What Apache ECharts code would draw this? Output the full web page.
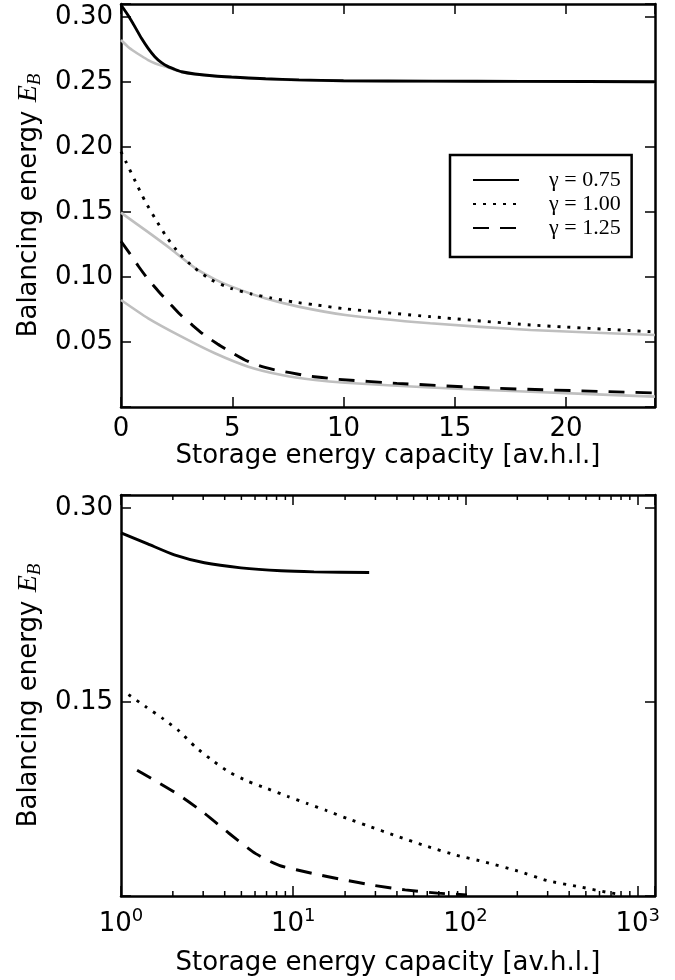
<!DOCTYPE html>
<html>
<head>
<meta charset="utf-8">
<script src="https://cdn.jsdelivr.net/npm/echarts@6/dist/echarts.min.js"></script>
<style>
html,body{margin:0;padding:0;background:#fff;}
#c{width:675px;height:980px;}
</style>
</head>
<body>
<div id="c"></div>
<script>
// ---------- data ----------
const legendNames = ['γ=0.75', 'γ=1.00', 'γ=1.25'];

// top panel (linear storage capacity)
const topSolidX = [0, 0.31, 0.62, 0.92, 1.22, 1.52, 1.82, 2.12, 2.42, 2.72, 3.32, 4.22, 4.97, 6.5, 8, 10, 14, 18, 24];
const topSolidY = [0.3092, 0.3015, 0.2926, 0.2836, 0.2759, 0.2695, 0.2649, 0.2618, 0.2597, 0.2579, 0.2562, 0.2546, 0.2538, 0.2525, 0.2516, 0.2510, 0.2507, 0.2505, 0.2502];
const topGrayAX = [0, 0.31, 0.62, 0.92, 1.22, 1.52, 1.82, 2.12, 2.72, 3.32, 4.22, 4.97, 6.5, 8, 10, 14, 18, 24];
const topGrayAY = [0.2823, 0.2772, 0.2733, 0.2700, 0.2669, 0.2644, 0.2626, 0.2611, 0.2577, 0.2560, 0.2544, 0.2536, 0.2523, 0.2514, 0.2508, 0.2505, 0.2503, 0.2500];

const topDotX = [0, 0.24, 0.65, 1.07, 1.55, 2.04, 2.61, 3.32, 4.07, 4.94, 5.87, 6.77, 7.75, 8.69, 10.08, 13.9, 18.4, 24];
const topDotY = [0.1964, 0.188, 0.1733, 0.1587, 0.1446, 0.131, 0.1182, 0.1067, 0.0977, 0.0913, 0.0869, 0.0838, 0.0808, 0.0787, 0.0755, 0.0695, 0.0631, 0.0578];
const topGrayBX = [0, 1.22, 2.27, 3.32, 4.22, 4.97, 6.47, 7.97, 10.08, 13.9, 18.4, 24];
const topGrayBY = [0.1495, 0.1345, 0.1212, 0.1070, 0.0982, 0.0926, 0.0836, 0.0772, 0.0708, 0.0644, 0.0592, 0.0554];

const topDashX = [0, 0.39, 0.8, 1.22, 1.7, 2.19, 2.64, 3.2, 3.74, 4.34, 4.9, 5.57, 6.2, 6.92, 7.6, 8.35, 9.03, 9.77, 12.4, 16.9, 24];
const topDashY = [0.1275, 0.1182, 0.1079, 0.0982, 0.0887, 0.0797, 0.0715, 0.0631, 0.0554, 0.0485, 0.0426, 0.0362, 0.0318, 0.0285, 0.0264, 0.0240, 0.0227, 0.0213, 0.0182, 0.0144, 0.0108];
const topGrayCX = [0, 1.22, 2.72, 4.22, 5.72, 7.22, 8.72, 10.08, 13.9, 18.4, 24];
const topGrayCY = [0.0823, 0.0682, 0.0541, 0.0413, 0.031, 0.0246, 0.0208, 0.0187, 0.015, 0.0117, 0.0080];

// bottom panel (log storage capacity)
const botSolidX = [1, 1.43, 2.04, 3.05, 4.97, 8.49, 13.2, 27.6];
const botSolidY = [0.2807, 0.2722, 0.2637, 0.2576, 0.2537, 0.2514, 0.2506, 0.2501];
const botDotX = [1.105, 1.40, 1.77, 2.18, 2.70, 3.38, 4.22, 5.43, 7.10, 9.27, 12.0, 15.7, 20.5, 27.0, 39.4, 58.8, 87.7, 131, 200, 298, 451, 679, 783];
const botDotY = [0.1557, 0.1461, 0.1367, 0.1274, 0.1153, 0.105, 0.096, 0.0888, 0.0829, 0.077, 0.0716, 0.0659, 0.0600, 0.0543, 0.0466, 0.0387, 0.0317, 0.0261, 0.0194, 0.0119, 0.0073, 0.0026, 0.0014];
const botDashX = [1.24, 1.50, 2.13, 3.02, 4.20, 5.81, 7.03, 8.49, 12.8, 19.3, 29.5, 44.6, 68.7, 102];
const botDashY = [0.0973, 0.0909, 0.0788, 0.0644, 0.0489, 0.0343, 0.0279, 0.0232, 0.0176, 0.0127, 0.0082, 0.0047, 0.0022, 0.0009];

// axes
const topXRange = [0, 24], topXStep = 5;
const topYRange = [0, 0.31], topYStep = 0.05;
const botXRange = [1, 1260];
const botYRange = [0, 0.31], botYStep = 0.15;
const logMinorTicks = [2, 3, 4, 5, 6, 7, 8, 9, 20, 30, 40, 50, 60, 70, 80, 90, 200, 300, 400, 500, 600, 700, 800, 900];
const xTitle = 'Storage energy capacity [av.h.l.]';

// ---------- build ----------
const zip = (xs, ys) => xs.map((x, i) => [x, ys[i]]);
const SANS = 'DejaVu Sans';
const SERIF = 'Liberation Serif';
const FS = 26;
const spine = { show: true, onZero: false, lineStyle: { color: '#000', width: 2.5 } };
const tick = { show: true, inside: true, length: 10, lineStyle: { color: '#000', width: 1.5 } };
const yName = '{n|Balancing energy }{e|E}{s|B}';
const yNameStyle = {
  fontFamily: SANS, fontSize: FS, color: '#000',
  rich: {
    n: { fontFamily: SANS, fontSize: FS, color: '#000', lineHeight: 30 },
    e: { fontFamily: SERIF, fontStyle: 'italic', fontSize: 28, color: '#000', lineHeight: 30 },
    s: { fontFamily: SERIF, fontStyle: 'italic', fontSize: 19, color: '#000', lineHeight: 14, verticalAlign: 'bottom' }
  }
};
const xNameStyle = { fontFamily: SANS, fontSize: FS, color: '#000' };
const linFmt = (step, maxShown) => v => {
  if (Math.abs(v) < 1e-9 || v > maxShown + 1e-9) return '';
  const k = v / step;
  if (Math.abs(k - Math.round(k)) > 1e-6) return '';
  return v.toFixed(2);
};

const gray = '#bfbfbf';
function line(name, xs, ys, xi, yi, color, type, z, w) {
  return {
    name, type: 'line', xAxisIndex: xi, yAxisIndex: yi,
    data: zip(xs, ys), showSymbol: false, symbol: 'none', smooth: 0.2,
    lineStyle: { color, width: w, type, cap: 'butt' }, itemStyle: { color },
    z, silent: true
  };
}
const DOT = [3, 7];
const DASH = [16, 11];
const BW = 2.9, GW = 2.6;

const option = {
  animation: false,
  backgroundColor: '#fff',
  grid: [
    { left: 121, right: 20, top: 4, height: 403, outerBoundsMode: 'none', containLabel: false },
    { left: 121, right: 20, top: 495, height: 401, outerBoundsMode: 'none', containLabel: false }
  ],
  legend: {
    data: legendNames,
    orient: 'vertical',
    left: 450, top: 155,
    padding: [14, 11, 18, 22],
    itemWidth: 46, itemHeight: 14, itemGap: 2,
    borderColor: '#000', borderWidth: 2.5, backgroundColor: '#fff',
    selectedMode: false,
    itemStyle: { opacity: 0, borderWidth: 0 },
    textStyle: { fontFamily: SERIF, fontSize: 22, color: '#000', padding: [0, 0, 0, 25] },
    formatter: n => n.replace('=', ' = ')
  },
  xAxis: [
    { gridIndex: 0, type: 'value', position: 'bottom', min: topXRange[0], max: topXRange[1], interval: topXStep,
      axisLine: spine, axisTick: tick, splitLine: { show: false },
      axisLabel: { fontFamily: SANS, fontSize: FS, color: '#000', margin: 9,
        formatter: v => (v % topXStep === 0 ? String(v) : '') },
      name: xTitle, nameLocation: 'middle', nameGap: 34, nameTextStyle: xNameStyle },
    { gridIndex: 0, type: 'value', position: 'top', min: topXRange[0], max: topXRange[1], interval: topXStep,
      axisLine: spine, axisTick: tick, splitLine: { show: false }, axisLabel: { show: false } },
    { gridIndex: 1, type: 'log', logBase: 10, position: 'bottom', min: botXRange[0], max: botXRange[1],
      axisLine: spine, axisTick: tick, splitLine: { show: false }, minorTick: { show: false },
      axisLabel: { fontFamily: SANS, fontSize: FS, color: '#000', margin: 11,
        formatter: v => {
          const l = Math.log10(v), r = Math.round(l);
          return Math.abs(l - r) < 1e-6 ? '{b|10}{s|' + r + '}' : '';
        },
        rich: {
          b: { fontFamily: SANS, fontSize: FS, color: '#000', lineHeight: 34 },
          s: { fontFamily: SANS, fontSize: 18, color: '#000', lineHeight: 14, verticalAlign: 'top' }
        } },
      name: xTitle, nameLocation: 'middle', nameGap: 54, nameTextStyle: xNameStyle },
    { gridIndex: 1, type: 'log', logBase: 10, position: 'top', min: botXRange[0], max: botXRange[1],
      axisLine: spine, axisTick: tick, splitLine: { show: false }, axisLabel: { show: false } }
  ],
  yAxis: [
    { gridIndex: 0, type: 'value', position: 'left', min: topYRange[0], max: topYRange[1], interval: topYStep,
      axisLine: spine, axisTick: tick, splitLine: { show: false },
      axisLabel: { fontFamily: SANS, fontSize: FS, color: '#000', margin: 8, formatter: linFmt(topYStep, 0.30) },
      name: yName, nameLocation: 'middle', nameRotate: 90, nameGap: 77, nameTextStyle: yNameStyle },
    { gridIndex: 0, type: 'value', position: 'right', min: topYRange[0], max: topYRange[1], interval: topYStep,
      axisLine: spine, axisTick: tick, splitLine: { show: false }, axisLabel: { show: false } },
    { gridIndex: 1, type: 'value', position: 'left', min: botYRange[0], max: botYRange[1], interval: botYStep,
      axisLine: spine, axisTick: tick, splitLine: { show: false },
      axisLabel: { fontFamily: SANS, fontSize: FS, color: '#000', margin: 8, formatter: linFmt(botYStep, 0.30) },
      name: yName, nameLocation: 'middle', nameRotate: 90, nameGap: 77, nameTextStyle: yNameStyle },
    { gridIndex: 1, type: 'value', position: 'right', min: botYRange[0], max: botYRange[1], interval: botYStep,
      axisLine: spine, axisTick: tick, splitLine: { show: false }, axisLabel: { show: false } }
  ],
  series: [
    line('ref γ=0.75', topGrayAX, topGrayAY, 0, 0, gray, 'solid', 2, GW),
    line('ref γ=1.00', topGrayBX, topGrayBY, 0, 0, gray, 'solid', 2, GW),
    line('ref γ=1.25', topGrayCX, topGrayCY, 0, 0, gray, 'solid', 2, GW),
    line(legendNames[0], topSolidX, topSolidY, 0, 0, '#000', 'solid', 3, BW),
    line(legendNames[1], topDotX, topDotY, 0, 0, '#000', DOT, 3, BW),
    line(legendNames[2], topDashX, topDashY, 0, 0, '#000', DASH, 3, BW),
    line('log ' + legendNames[0], botSolidX, botSolidY, 2, 2, '#000', 'solid', 3, BW),
    line('log ' + legendNames[1], botDotX, botDotY, 2, 2, '#000', DOT, 3, BW),
    line('log ' + legendNames[2], botDashX, botDashY, 2, 2, '#000', DASH, 3, BW),
    {
      name: 'minor ticks', type: 'custom', xAxisIndex: 2, yAxisIndex: 2, silent: true, clip: false, z: 5,
      data: logMinorTicks.map(v => [v, botYRange[0]]),
      renderItem: (params, api) => {
        const v = api.value(0);
        const b = api.coord([v, botYRange[0]]);
        const t = api.coord([v, botYRange[1]]);
        const st = { stroke: '#000', lineWidth: 1.5 };
        return { type: 'group', children: [
          { type: 'line', shape: { x1: b[0], y1: b[1], x2: b[0], y2: b[1] - 5 }, style: st },
          { type: 'line', shape: { x1: t[0], y1: t[1], x2: t[0], y2: t[1] + 5 }, style: st }
        ] };
      }
    }
  ]
};
const chart = echarts.init(document.getElementById('c'), null, { renderer: 'canvas' });
chart.setOption(option);
</script>
</body>
</html>
